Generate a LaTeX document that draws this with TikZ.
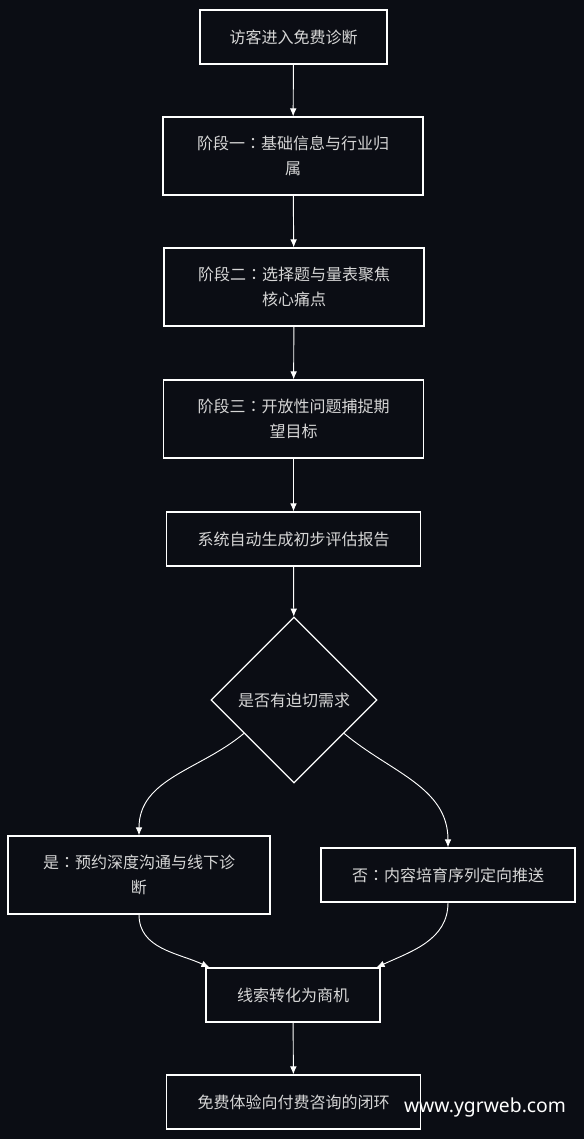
\documentclass[tikz,border=0pt]{standalone}
\usepackage{fontspec}
\setmainfont{Noto Sans CJK SC}
\newfontfamily\markfont{Noto Sans}
\newfontfamily\tcfont{Noto Sans CJK TC}
\usetikzlibrary{arrows.meta,shapes.geometric,calc}
\definecolor{bgcol}{RGB}{11,13,20}
\definecolor{txtcol}{RGB}{214,214,214}
\newcommand{\midcolon}{{\tcfont ：}}

\begin{document}
\begin{tikzpicture}[x=0.75pt,y=-0.75pt,
    box/.style={draw=white,line width=0.9pt,fill=bgcol,text=txtcol,align=center,
        font=\fontsize{12}{18.75}\selectfont,inner sep=0pt},
    flow/.style={draw=white,line width=0.7pt,-{Latex[length=6pt,width=5pt]}}]
    \fill[bgcol] (0,0) rectangle (584,1139);
    \useasboundingbox (0,0) rectangle (584,1139);
    \node[box,minimum width=140.25pt,minimum height=40.5pt] (visit) at (293.5,37) {访客进入免费诊断};
    \node[box,minimum width=195pt,minimum height=58.5pt] (stage1) at (293,156) {阶段一\midcolon 基础信息与行业归\\属};
    \node[box,minimum width=195pt,minimum height=58.5pt] (stage2) at (294,287) {阶段二\midcolon 选择题与量表聚焦\\核心痛点};
    \node[box,minimum width=195pt,minimum height=58.5pt] (stage3) at (293.5,419) {阶段三\midcolon 开放性问题捕捉期\\望目标};
    \node[box,minimum width=190pt,minimum height=40.5pt] (report) at (293.5,539) {系统自动生成初步评估报告};
    \node[box,diamond,minimum width=124.5pt,minimum height=124.5pt] (urgent) at (294,700) {是否有迫切需求};
    \node[box,minimum width=196.5pt,minimum height=58.5pt] (yes) at (139,875) {是\midcolon 预约深度沟通与线下诊\\断};
    \node[box,minimum width=190.5pt,minimum height=40.5pt] (no) at (448,875) {否\midcolon 内容培育序列定向推送};
    \node[box,minimum width=130.5pt,minimum height=40.5pt] (lead) at (293,995) {线索转化为商机};
    \node[box,minimum width=190pt,minimum height=40.5pt] (loop) at (293.5,1102) {免费体验向付费咨询的闭环};
    \node[text=white,font=\markfont\fontsize{14.5}{16}\selectfont] (mark) at (485,1107) {www.ygrweb.com};
    % connectors
    \draw[flow] (visit) -- (stage1);
    \draw[flow] (stage1) -- (stage2);
    \draw[flow] (stage2) -- (stage3);
    \draw[flow] (stage3) -- (report);
    \draw[flow] (report) -- (urgent);
    \draw[flow] ($(urgent.west)!0.4!(urgent.south)$) to[out=-140,in=90] (yes.north);
    \draw[flow] ($(urgent.east)!0.4!(urgent.south)$) to[out=-40,in=90] (no.north);
    \draw[flow] (yes.south) to[out=-90,in=155] ([xshift=3pt]lead.north west);
    \draw[flow] (no.south) to[out=-90,in=25] ([xshift=-3pt]lead.north east);
    \draw[flow] (lead) -- (loop);
\end{tikzpicture}
\end{document}
